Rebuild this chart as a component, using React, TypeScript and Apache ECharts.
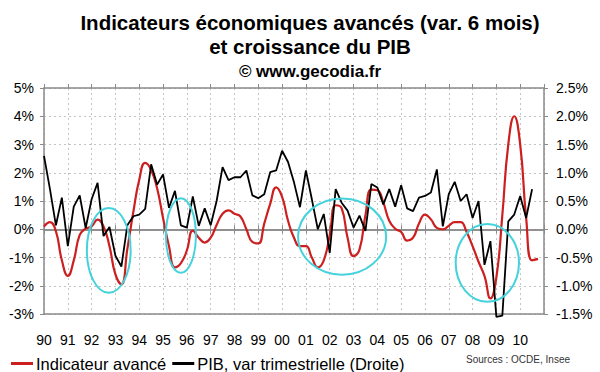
import React, { useEffect, useRef } from "react";
import * as echarts from "echarts";

const START_YEAR = 1990;
const END_YEAR = 2011;

// Indicateur avancé (var. 6 mois), %, quarterly samples from 1990 Q1 (left axis)
const leadingIndicator = [
  0.1, 0.25, -0.07, -1.1, -1.65, -1.1, -0.2, 0.02,
  0.1, 0.34, 0.1, -0.6, -1.6, -1.95, -0.7, 0.6,
  1.75, 2.35, 2.1, 1.45, 0.4, -0.6, -1.35, -1.2,
  -0.75, -0.05, -0.3, -0.47, -0.3, 0.15, 0.55, 0.67,
  0.55, 0.45, 0.0, -0.45, -0.5, 0.2, 0.9, 1.48,
  1.15, 0.3, -0.3, -0.6, -0.6, -1.0, -1.35, -1.1,
  -0.2, 0.85, 0.75, -0.3, -0.95, -0.72, 0.5, 1.4,
  1.38, 0.95, 0.3, 0.02, -0.1, -0.4, -0.3, 0.2,
  0.52, 0.35, 0.05, 0.0, 0.12, 0.25, 0.25, -0.1,
  -0.6, -1.15, -1.65, -2.45, -1.7, 0.5, 3.0, 4.0,
  3.0, 0.4, -1.1, -1.05,
];

// PIB, variation trimestrielle, %, from 1990 Q1 (right axis)
const gdpGrowth = [
  1.3, 0.71, 0.07, 0.56, -0.3, 0.4, 0.6, 0.02,
  0.53, 0.82, -0.12, 0.04, -0.47, -0.66, 0.07, 0.23,
  0.26, 0.36, 1.15, 0.79, 0.97, 0.38, 0.68, 0.07,
  0.03, 0.58, 0.06, 0.37, 0.07, 0.5, 1.1, 0.87,
  0.92, 0.92, 1.04, 0.6, 0.55, 0.62, 1.01, 1.04,
  1.39, 1.19, 0.83, 0.39, 1.04, 0.53, 0.0, 0.27,
  -0.42, 0.71, 0.47, 0.33, 0.03, 0.24, -0.03, 0.8,
  0.74, 0.44, 0.71, 0.4, 0.78, 0.37, 0.32, 0.56,
  0.59, 0.65, 1.06, 0.05, 0.62, 0.84, 0.5, 0.62,
  0.2, 0.5, -0.63, -0.21, -1.55, -1.53, 0.14, 0.26,
  0.59, 0.2, 0.71,
];

// Highlight ellipses: [centre year, centre value (left axis), radius in years, radius in %]
const highlights = [
  [1992.72, -0.75, 0.92, 1.5],
  [1995.75, -0.22, 0.63, 1.32],
  [2002.52, -0.26, 1.85, 1.35],
  [2008.62, -1.19, 1.33, 1.38],
];

const leftTicks = { min: -3, max: 5, interval: 1 };
const rightTicks = { min: -1.5, max: 2.5, interval: 0.5 };

const seriesNames = ["Indicateur avancé", "PIB, var trimestrielle (Droite)"];

const FONT = "'Liberation Sans', Arial, sans-serif";

export default function App() {
  const ref = useRef<HTMLDivElement>(null);

  useEffect(() => {
    if (!ref.current) return;
    const chart = echarts.init(ref.current, undefined, { renderer: "svg" });

    const redData = leadingIndicator.map((v, i) => [START_YEAR + i / 4, v]);
    const blackData = gdpGrowth.map((v, i) => [START_YEAR + i / 4, v]);

    const xBase = {
      type: "value" as const,
      min: START_YEAR,
      max: END_YEAR,
      interval: 1,
    };

    chart.setOption({
      animation: false,
      backgroundColor: "#ffffff",
      textStyle: { fontFamily: FONT },
      title: {
        text: "Indicateurs économiques avancés (var. 6 mois)\net croissance du PIB",
        subtext: "© www.gecodia.fr",
        left: 305,
        textAlign: "center",
        top: 6,
        padding: [5, 5, 5, 5],
        itemGap: 5,
        textStyle: {
          fontFamily: FONT,
          fontSize: 20.5,
          fontWeight: "bold",
          color: "#000",
          lineHeight: 23.5,
        },
        subtextStyle: {
          fontFamily: FONT,
          fontSize: 17,
          fontWeight: "bold",
          color: "#000",
          lineHeight: 17,
        },
      },
      legend: {
        data: seriesNames,
        left: 6,
        top: 350,
        icon: "rect",
        itemWidth: 22,
        itemHeight: 3,
        itemGap: 6,
        textStyle: { fontFamily: FONT, fontSize: 16.5, color: "#000", padding: [0, 0, 0, -2] },
      },
      grid: { left: 44, right: 56, top: 88, bottom: 58 },
      xAxis: [
        {
          ...xBase,
          position: "bottom",
          axisLine: { onZero: false, lineStyle: { color: "#8a8a8a", width: 1.5 } },
          axisTick: { show: false },
          axisLabel: {
            margin: 19,
            fontSize: 14,
            color: "#000",
            fontFamily: FONT,
            formatter: (v: number) => {
              const y = Math.round(v);
              return y >= END_YEAR ? "" : String(y % 100).padStart(2, "0");
            },
          },
          splitLine: { show: true, lineStyle: { color: "#c4c4c4", type: [2, 3], width: 1 } },
        },
        {
          ...xBase,
          position: "top",
          axisLine: { onZero: false, lineStyle: { color: "#8a8a8a", width: 1.5 } },
          axisTick: { show: true, length: 4, lineStyle: { color: "#8a8a8a" } },
          axisLabel: { show: false },
          splitLine: { show: false },
        },
        {
          ...xBase,
          position: "bottom",
          axisLine: { onZero: true, onZeroAxisIndex: 0, lineStyle: { color: "#8a8a8a", width: 1.5 } },
          axisTick: { show: true, length: 4, lineStyle: { color: "#8a8a8a" } },
          axisLabel: { show: false },
          splitLine: { show: false },
        },
        {
          ...xBase,
          position: "bottom",
          axisLine: { onZero: true, onZeroAxisIndex: 0, lineStyle: { color: "#8a8a8a", width: 1.5 } },
          axisTick: { show: true, inside: true, length: 4, lineStyle: { color: "#8a8a8a" } },
          axisLabel: { show: false },
          splitLine: { show: false },
        },
      ],
      yAxis: [
        {
          type: "value",
          position: "left",
          ...leftTicks,
          axisLine: { show: true, onZero: false, lineStyle: { color: "#8a8a8a", width: 1.5 } },
          axisTick: { show: true, length: 4, lineStyle: { color: "#8a8a8a" } },
          axisLabel: {
            margin: 10,
            fontSize: 14,
            color: "#000",
            fontFamily: FONT,
            formatter: (v: number) => `${v}%`,
          },
          splitLine: { show: true, lineStyle: { color: "#c4c4c4", type: [2, 3], width: 1 } },
        },
        {
          type: "value",
          position: "right",
          ...rightTicks,
          axisLine: { show: true, onZero: false, lineStyle: { color: "#8a8a8a", width: 1.5 } },
          axisTick: { show: true, length: 4, lineStyle: { color: "#8a8a8a" } },
          axisLabel: {
            margin: 12,
            fontSize: 14,
            color: "#000",
            fontFamily: FONT,
            formatter: (v: number) => `${v.toFixed(1)}%`,
          },
          splitLine: { show: false },
        },
      ],
      series: [
        {
          name: seriesNames[0],
          type: "line",
          xAxisIndex: 0,
          yAxisIndex: 0,
          data: redData,
          smooth: 0.5,
          showSymbol: false,
          color: "#cc1f1f",
          lineStyle: { color: "#cc1f1f", width: 2.2 },
          z: 3,
        },
        {
          name: seriesNames[1],
          type: "line",
          xAxisIndex: 0,
          yAxisIndex: 1,
          data: blackData,
          showSymbol: false,
          clip: false,
          color: "#000000",
          lineStyle: { color: "#000000", width: 1.8 },
          z: 4,
        },
        {
          type: "custom",
          xAxisIndex: 0,
          yAxisIndex: 0,
          data: highlights,
          silent: true,
          z: 5,
          renderItem: (_params: any, api: any) => {
            const c = api.coord([api.value(0), api.value(1)]);
            const s = api.size([api.value(2), api.value(3)]);
            return {
              type: "ellipse",
              shape: { cx: c[0], cy: c[1], rx: s[0], ry: s[1] },
              style: { fill: "none", stroke: "#45d2dc", lineWidth: 2 },
            };
          },
        },
      ],
      graphic: [
        {
          type: "text",
          right: 30,
          top: 354,
          style: {
            text: "Sources : OCDE, Insee",
            fontFamily: FONT,
            fontSize: 10,
            fill: "#333",
          },
        },
      ],
    });

    return () => chart.dispose();
  }, []);

  return (
    <div
      ref={ref}
      style={{ position: "fixed", left: 0, top: 0, width: 600, height: 372 }}
    />
  );
}
